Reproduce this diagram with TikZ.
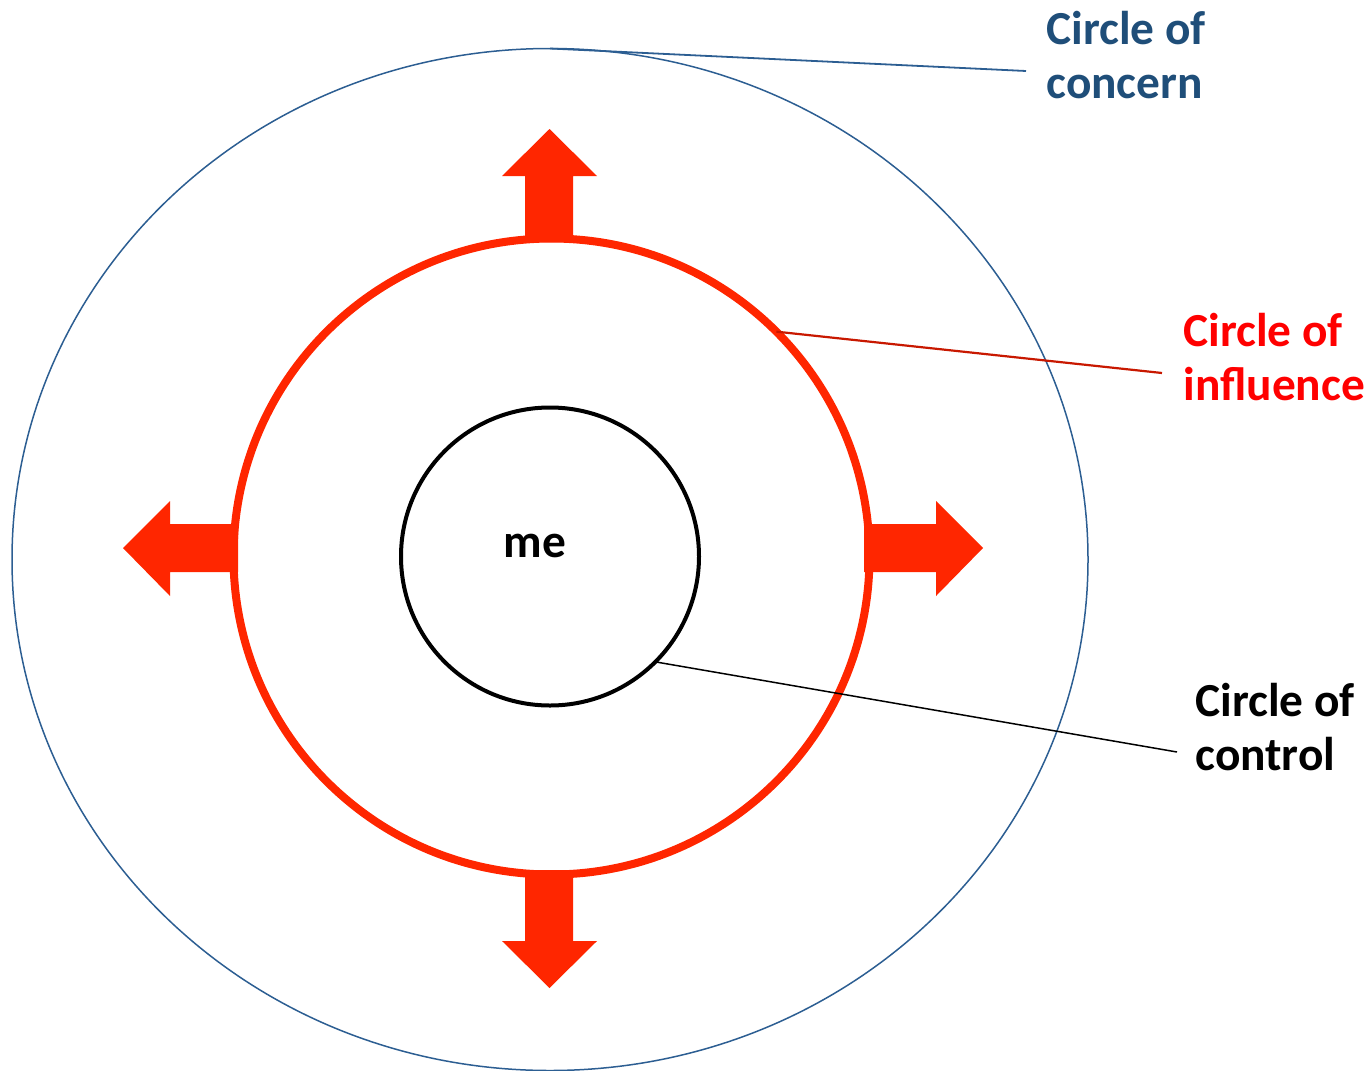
\documentclass[tikz,border=0pt]{standalone}
\usepackage{fontspec}
\setmainfont{Carlito}
\usetikzlibrary{shapes.geometric}
\definecolor{ellblue}{RGB}{44,94,146}
\definecolor{txtblue}{RGB}{31,78,121}
\definecolor{arrred}{RGB}{255,38,0}
\definecolor{leadred}{RGB}{200,24,0}
\tikzset{
  lbl/.style={anchor=base west, align=left, inner sep=0pt, font=\bfseries\fontsize{23.7}{27}\selectfont},
  bigarrow/.style={fill=arrred, draw=none},
}
\begin{document}
\begin{tikzpicture}[x=0.5pt,y=-0.5pt]
\useasboundingbox (0,0) rectangle (1371,1071);
% outer ellipse
\node[ellipse, draw=ellblue, line width=0.75pt, minimum width=538pt, minimum height=511pt, inner sep=0pt, outer sep=0pt] (concern) at (550,559.5) {};
% arrows (drawn before the red circle so the circle covers the shaft ends)
\fill[bigarrow] (525,242) -- (525,176) -- (502,176) -- (549.5,129) -- (597,176) -- (573,176) -- (573,242) -- cycle;
\fill[bigarrow] (525,870) -- (525,941) -- (502,941) -- (549.5,988) -- (597,941) -- (573,941) -- (573,870) -- cycle;
\fill[bigarrow] (238,524) -- (170,524) -- (170,501) -- (123,548) -- (170,596) -- (170,572) -- (238,572) -- cycle;
\fill[bigarrow] (864,524) -- (936,524) -- (936,501) -- (983,548) -- (936,596) -- (936,572) -- (864,572) -- cycle;
% red circle
\node[circle, draw=arrred, line width=4pt, minimum size=318pt, inner sep=0pt, outer sep=0pt] (influence) at (551.5,556.5) {};
% black circle
\node[circle, draw=black, line width=2pt, minimum size=149pt, inner sep=0pt, outer sep=0pt] (control) at (550,556.5) {};
\node[lbl, anchor=base] (me) at (535,557) {me};
% labels
\node[lbl, text=txtblue] (lconcern) at (1046,98) {Circle of\\concern};
\node[lbl, text=red] (linfluence) at (1183,400) {Circle of\\influence};
\node[lbl, text=black] (lcontrol) at (1195,770) {Circle of\\control};
% leader ends
\coordinate (econcern) at (1026,71);
\coordinate (einfluence) at (1162,373);
\coordinate (econtrol) at (1177,752);
\draw[ellblue, line width=0.9pt] (concern.north) -- (econcern);
\draw[leadred, line width=1.1pt] (influence.45) -- (einfluence);
\draw[black, line width=0.75pt] (control.-45) -- (econtrol);
\end{tikzpicture}
\end{document}
